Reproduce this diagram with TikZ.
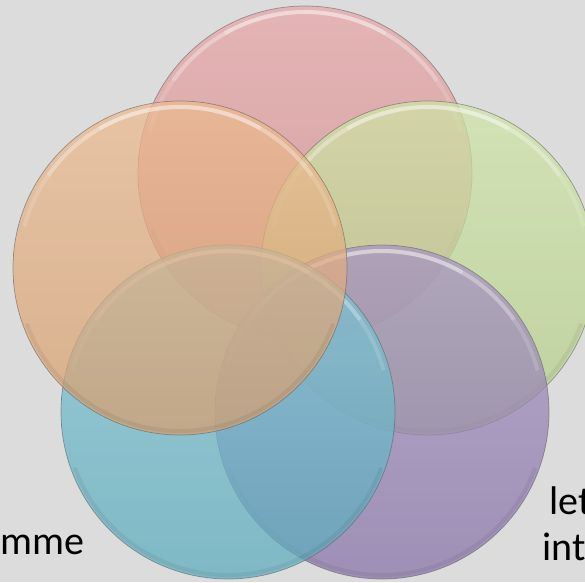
\documentclass[tikz,border=0pt]{standalone}
\usepackage{fontspec}
\setmainfont{Carlito}

\definecolor{pagebg}{RGB}{220,220,220}
\definecolor{vennred}{RGB}{226,146,148}
\definecolor{venngreen}{RGB}{196,223,148}
\definecolor{vennpurple}{RGB}{147,124,182}
\definecolor{vennblue}{RGB}{100,186,205}
\definecolor{vennorange}{RGB}{232,172,120}

% soft bevel: a light band under the top rim, a faint dark band above the bottom rim
\newcommand\venngloss[1]{%
  \foreach \a/\o in {15/0.15, 35/0.2, 60/0.25}{%
    \draw[white, line width=4pt, draw opacity=\o]
      ([shift={(\a:161)}]#1.center) arc[start angle=\a, end angle=180-\a, radius=161];
  }%
  \draw[black, line width=4pt, draw opacity=0.06]
    ([shift={(200:163)}]#1.center) arc[start angle=200, end angle=340, radius=163];
}

\begin{document}
\begin{tikzpicture}[x=1pt,y=1pt,
  venn/.style={circle, minimum size=334pt, inner sep=0pt,
    top color=#1!82!white, bottom color=#1!92!black,
    fill opacity=0.72, draw=black!65, draw opacity=0.55, line width=0.7pt},
  caption/.style={font=\fontsize{40}{46}\selectfont, text=black, inner sep=0pt}]

  % page
  \fill[pagebg] (0,0) rectangle (585,582);
  \path[use as bounding box] (0,0) rectangle (585,582);
  \clip (0,0) rectangle (585,582);

  % five overlapping sets, drawn clockwise from the top
  \node[venn=vennred]    (red)    at (305,409) {};
  \venngloss{red}
  \node[venn=venngreen]  (green)  at (428,314) {};
  \venngloss{green}
  \node[venn=vennpurple] (purple) at (382,170) {};
  \venngloss{purple}
  \node[venn=vennblue]   (blue)   at (228,170) {};
  \venngloss{blue}
  \node[venn=vennorange] (orange) at (180,314) {};
  \venngloss{orange}

  % text running off the page edges
  \node[caption, anchor=base east] (leftword) at (85,28) {mme};
  \node[caption, anchor=base west] (rightword1) at (549,68) {let};
  \node[caption, anchor=base west] (rightword2) at (542,22) {int};
\end{tikzpicture}
\end{document}
